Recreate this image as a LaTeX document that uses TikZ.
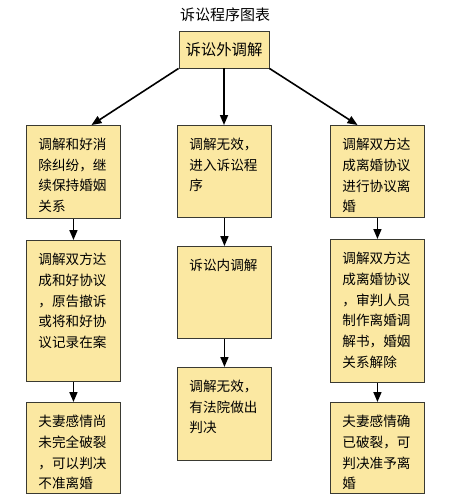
\documentclass[tikz,border=0pt]{standalone}
\usepackage{fontspec}
\newfontfamily\cjk{Noto Sans CJK SC}
\usetikzlibrary{arrows.meta,calc}
\definecolor{boxfill}{HTML}{FBE8A2}
\definecolor{boxline}{HTML}{3A3A32}
\newcommand{\boxtext}[2]{\parbox[t][#1][t]{70pt}{\vspace*{2.5pt}#2}}
\begin{document}
\begin{tikzpicture}[x=1pt,y=1pt,
  stepbox/.style={draw=boxline,line width=0.9pt,fill=boxfill,anchor=north west,
    inner xsep=12pt,inner ysep=10pt,
    font=\cjk\fontsize{13.6}{20.8}\selectfont},
  topbox/.style={draw=boxline,line width=0.9pt,fill=boxfill,minimum width=90pt,
    minimum height=37pt,inner sep=0pt,font=\cjk\fontsize{15.4}{18}\selectfont},
  arr/.style={line width=1.6pt,-{Triangle[length=10pt,width=8pt]}}]
\useasboundingbox (0,0) rectangle (450,-499);
\node[font=\cjk\fontsize{15}{18}\selectfont] (title) at (225,-15) {诉讼程序图表};
\node[topbox] (top) at (224,-49.5) {诉讼外调解};

\node[stepbox] (l1) at (26,-125) {\boxtext{73pt}{调解和好消\\除纠纷，继\\续保持婚姻\\关系}};
\node[stepbox] (l2) at (26,-240) {\boxtext{121pt}{调解双方达\\成和好协议\\，原告撤诉\\或将和好协\\议记录在案}};
\node[stepbox] (l3) at (26,-402) {\boxtext{71pt}{夫妻感情尚\\未完全破裂\\，可以判决\\不准离婚}};

\node[stepbox] (m1) at (177,-125) {\boxtext{72pt}{调解无效，\\进入诉讼程\\序}};
\node[stepbox] (m2) at (177,-246) {\boxtext{72pt}{诉讼内调解}};
\node[stepbox] (m3) at (177,-367) {\boxtext{73pt}{调解无效，\\有法院做出\\判决}};

\node[stepbox] (r1) at (330,-125) {\boxtext{72pt}{调解双方达\\成离婚协议\\进行协议离\\婚}};
\node[stepbox] (r2) at (330,-239) {\boxtext{123pt}{调解双方达\\成离婚协议\\，审判人员\\制作离婚调\\解书，婚姻\\关系解除}};
\node[stepbox] (r3) at (330,-402) {\boxtext{71pt}{夫妻感情确\\已破裂，可\\判决准予离\\婚}};

\draw[arr] (top.south west) -- ($(l1.north west)!0.69!(l1.north east)$);
\draw[arr] (top.south) -- (top.south |- m1.north);
\draw[arr] (top.south east) -- ($(r1.north west)!0.29!(r1.north east)$);

\draw[arr] (l1.south) -- (l2.north);
\draw[arr] (l2.south) -- (l3.north);
\draw[arr] (m1.south) -- (m2.north);
\draw[arr] (m2.south) -- (m3.north);
\draw[arr] (r1.south) -- (r2.north);
\draw[arr] (r2.south) -- (r3.north);
\end{tikzpicture}
\end{document}
